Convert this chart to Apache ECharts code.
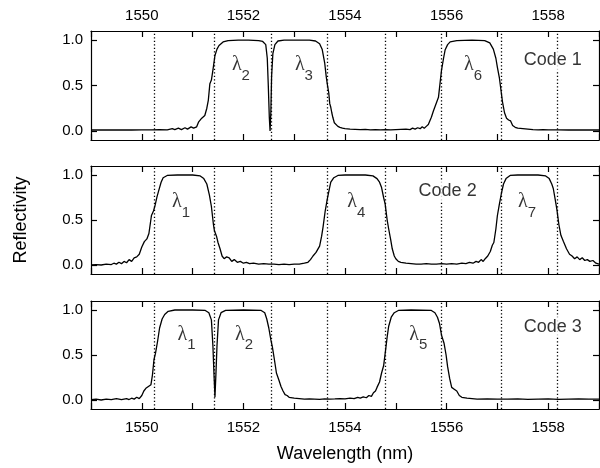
<!DOCTYPE html>
<html>
<head>
<meta charset="utf-8">
<script src="https://cdn.jsdelivr.net/npm/echarts@6/dist/echarts.min.js"></script>
<style>
  html, body { margin: 0; padding: 0; background: #fff; }
  #chart { width: 600px; height: 468px; }
</style>
</head>
<body>
<div id="chart"></div>
<script>
// axis ticks / labels
const xTickLabels = [1550, 1552, 1554, 1556, 1558];
const xTicks = [1549, 1550, 1551, 1552, 1553, 1554, 1555, 1556, 1557, 1558, 1559];
const yTicks = [0, 0.5, 1.0];

// dotted channel boundaries (nm)
const channelEdges = [1550.24, 1551.43, 1552.54, 1553.65, 1554.79, 1555.89, 1557.08, 1558.18];

// reflectivity spectra [wavelength, R]
const code1 = [
  [1549.0, 0.01], [1549.2, 0.012], [1549.4, 0.01], [1549.6, 0.012], [1549.8, 0.01], [1550.0, 0.012],
  [1550.2, 0.012], [1550.35, 0.015], [1550.5, 0.012], [1550.6, 0.025], [1550.65, 0.015], [1550.72, 0.03],
  [1550.78, 0.015], [1550.85, 0.035], [1550.9, 0.02], [1550.97, 0.045], [1551.02, 0.03], [1551.08, 0.045],
  [1551.12, 0.1], [1551.18, 0.14], [1551.24, 0.17], [1551.28, 0.25], [1551.31, 0.34], [1551.34, 0.52],
  [1551.37, 0.56], [1551.40, 0.67], [1551.44, 0.83], [1551.48, 0.9], [1551.52, 0.94], [1551.6, 0.98],
  [1551.7, 0.995], [1551.9, 1.0], [1552.1, 1.0], [1552.3, 0.995], [1552.38, 0.985], [1552.44, 0.95],
  [1552.47, 0.8], [1552.49, 0.5], [1552.51, 0.15], [1552.525, 0.0], [1552.54, 0.2], [1552.555, 0.6],
  [1552.58, 0.85], [1552.62, 0.95], [1552.68, 0.99], [1552.8, 1.0], [1553.0, 1.0], [1553.3, 1.0],
  [1553.42, 0.99], [1553.5, 0.96], [1553.55, 0.9], [1553.6, 0.75], [1553.63, 0.6], [1553.65, 0.52],
  [1553.68, 0.42], [1553.70, 0.30], [1553.72, 0.26], [1553.74, 0.2], [1553.76, 0.15], [1553.79, 0.09],
  [1553.82, 0.07], [1553.86, 0.05], [1553.9, 0.04], [1553.95, 0.03], [1554.0, 0.025], [1554.1, 0.02],
  [1554.2, 0.018], [1554.3, 0.015], [1554.4, 0.018], [1554.5, 0.012], [1554.6, 0.015], [1554.7, 0.012],
  [1554.8, 0.015], [1554.9, 0.012], [1555.0, 0.015], [1555.1, 0.018], [1555.2, 0.02], [1555.28, 0.015],
  [1555.33, 0.03], [1555.38, 0.02], [1555.43, 0.035], [1555.48, 0.025], [1555.52, 0.045], [1555.56, 0.03],
  [1555.6, 0.05], [1555.64, 0.07], [1555.7, 0.15], [1555.74, 0.22], [1555.78, 0.28], [1555.84, 0.37],
  [1555.87, 0.52], [1555.9, 0.67], [1555.94, 0.8], [1555.97, 0.89], [1556.02, 0.95], [1556.07, 0.98],
  [1556.2, 0.995], [1556.5, 1.0], [1556.75, 0.995], [1556.85, 0.97], [1556.92, 0.9], [1556.97, 0.8],
  [1557.0, 0.7], [1557.04, 0.58], [1557.07, 0.45], [1557.1, 0.32], [1557.14, 0.2], [1557.18, 0.14],
  [1557.22, 0.12], [1557.26, 0.11], [1557.3, 0.06], [1557.35, 0.04], [1557.4, 0.03], [1557.5, 0.025],
  [1557.6, 0.02], [1557.7, 0.015], [1557.8, 0.012], [1557.9, 0.015], [1558.0, 0.012], [1558.2, 0.012],
  [1558.4, 0.01], [1558.6, 0.012], [1558.8, 0.01], [1559.0, 0.01]
];

const code2 = [
  [1549.0, 0.0], [1549.1, 0.005], [1549.2, 0.0], [1549.3, 0.01], [1549.4, 0.005], [1549.45, 0.02],
  [1549.5, 0.01], [1549.55, 0.03], [1549.6, 0.015], [1549.65, 0.04], [1549.7, 0.025], [1549.75, 0.06],
  [1549.8, 0.04], [1549.85, 0.08], [1549.9, 0.09], [1549.95, 0.12], [1550.0, 0.2], [1550.05, 0.26],
  [1550.1, 0.29], [1550.14, 0.35], [1550.19, 0.55], [1550.23, 0.6], [1550.26, 0.66], [1550.3, 0.76],
  [1550.34, 0.84], [1550.38, 0.92], [1550.42, 0.97], [1550.5, 0.995], [1550.7, 1.0], [1551.0, 1.0],
  [1551.15, 0.99], [1551.22, 0.96], [1551.28, 0.9], [1551.33, 0.78], [1551.37, 0.65], [1551.41, 0.45],
  [1551.43, 0.38], [1551.47, 0.32], [1551.5, 0.25], [1551.54, 0.18], [1551.58, 0.1], [1551.62, 0.07],
  [1551.67, 0.09], [1551.72, 0.08], [1551.77, 0.04], [1551.82, 0.06], [1551.88, 0.03], [1551.94, 0.04],
  [1552.0, 0.02], [1552.06, 0.03], [1552.12, 0.015], [1552.2, 0.02], [1552.3, 0.01], [1552.4, 0.015],
  [1552.5, 0.01], [1552.6, 0.01], [1552.7, 0.005], [1552.8, 0.01], [1552.9, 0.005], [1553.0, 0.01],
  [1553.1, 0.01], [1553.2, 0.02], [1553.27, 0.03], [1553.32, 0.06], [1553.37, 0.1], [1553.43, 0.14],
  [1553.5, 0.21], [1553.54, 0.32], [1553.57, 0.43], [1553.61, 0.6], [1553.65, 0.73], [1553.69, 0.84],
  [1553.72, 0.92], [1553.78, 0.97], [1553.86, 0.995], [1554.0, 1.0], [1554.4, 1.0], [1554.55, 0.99],
  [1554.63, 0.96], [1554.68, 0.92], [1554.72, 0.86], [1554.76, 0.75], [1554.79, 0.68], [1554.83, 0.5],
  [1554.86, 0.4], [1554.9, 0.28], [1554.93, 0.18], [1554.97, 0.1], [1555.0, 0.07], [1555.05, 0.04],
  [1555.1, 0.03], [1555.2, 0.02], [1555.3, 0.015], [1555.4, 0.01], [1555.5, 0.01], [1555.6, 0.015],
  [1555.7, 0.01], [1555.8, 0.01], [1555.9, 0.015], [1556.0, 0.01], [1556.1, 0.015], [1556.2, 0.01],
  [1556.3, 0.02], [1556.38, 0.015], [1556.45, 0.03], [1556.52, 0.02], [1556.58, 0.04], [1556.63, 0.03],
  [1556.68, 0.06], [1556.72, 0.04], [1556.76, 0.07], [1556.81, 0.1], [1556.86, 0.15], [1556.9, 0.22],
  [1556.93, 0.25], [1556.97, 0.4], [1557.0, 0.55], [1557.04, 0.68], [1557.08, 0.8], [1557.12, 0.9],
  [1557.17, 0.96], [1557.25, 0.995], [1557.4, 1.0], [1557.8, 1.0], [1557.95, 0.99], [1558.02, 0.96],
  [1558.07, 0.9], [1558.1, 0.85], [1558.14, 0.72], [1558.17, 0.62], [1558.21, 0.45], [1558.25, 0.33],
  [1558.3, 0.26], [1558.36, 0.18], [1558.42, 0.12], [1558.47, 0.1], [1558.52, 0.07], [1558.57, 0.09],
  [1558.62, 0.06], [1558.67, 0.08], [1558.72, 0.05], [1558.77, 0.06], [1558.82, 0.04], [1558.88, 0.05],
  [1558.94, 0.02], [1559.0, 0.01]
];

const code3 = [
  [1549.0, 0.005], [1549.1, 0.01], [1549.2, 0.0], [1549.3, 0.01], [1549.4, 0.005], [1549.5, 0.015],
  [1549.6, 0.005], [1549.7, 0.015], [1549.75, 0.005], [1549.8, 0.02], [1549.85, 0.01], [1549.9, 0.03],
  [1549.95, 0.015], [1550.0, 0.05], [1550.04, 0.1], [1550.08, 0.13], [1550.13, 0.15], [1550.18, 0.17],
  [1550.21, 0.28], [1550.24, 0.45], [1550.27, 0.52], [1550.31, 0.65], [1550.35, 0.8], [1550.4, 0.9],
  [1550.45, 0.95], [1550.52, 0.985], [1550.65, 1.0], [1551.0, 1.0], [1551.25, 0.995], [1551.32, 0.97],
  [1551.37, 0.89], [1551.40, 0.6], [1551.42, 0.3], [1551.44, 0.03], [1551.46, 0.3], [1551.48, 0.6],
  [1551.51, 0.89], [1551.56, 0.97], [1551.65, 0.995], [1552.0, 1.0], [1552.35, 0.995], [1552.42, 0.97],
  [1552.46, 0.9], [1552.5, 0.8], [1552.54, 0.67], [1552.57, 0.59], [1552.61, 0.45], [1552.65, 0.3],
  [1552.7, 0.22], [1552.74, 0.15], [1552.78, 0.1], [1552.82, 0.06], [1552.86, 0.05], [1552.9, 0.03],
  [1553.0, 0.02], [1553.1, 0.015], [1553.2, 0.01], [1553.3, 0.012], [1553.4, 0.01], [1553.5, 0.008],
  [1553.6, 0.012], [1553.7, 0.01], [1553.8, 0.012], [1553.9, 0.015], [1554.0, 0.012], [1554.1, 0.02],
  [1554.18, 0.015], [1554.25, 0.03], [1554.3, 0.02], [1554.36, 0.035], [1554.42, 0.025], [1554.47, 0.05],
  [1554.52, 0.04], [1554.56, 0.08], [1554.6, 0.1], [1554.63, 0.14], [1554.68, 0.2], [1554.72, 0.3],
  [1554.76, 0.38], [1554.8, 0.56], [1554.83, 0.7], [1554.86, 0.82], [1554.91, 0.92], [1554.97, 0.97],
  [1555.05, 0.995], [1555.3, 1.0], [1555.7, 0.995], [1555.77, 0.97], [1555.82, 0.92], [1555.86, 0.85],
  [1555.9, 0.72], [1555.95, 0.63], [1555.99, 0.5], [1556.02, 0.37], [1556.06, 0.24], [1556.1, 0.14],
  [1556.15, 0.12], [1556.2, 0.1], [1556.25, 0.05], [1556.3, 0.03], [1556.4, 0.02], [1556.5, 0.015],
  [1556.6, 0.01], [1556.8, 0.012], [1557.0, 0.01], [1557.2, 0.01], [1557.4, 0.012], [1557.6, 0.008],
  [1557.8, 0.01], [1558.0, 0.012], [1558.2, 0.008], [1558.4, 0.01], [1558.6, 0.012], [1558.8, 0.01],
  [1559.0, 0.01]
];

// channel labels [wavelength, R, subscript]
const lambdas1 = [[1551.87, 0.73, '2'], [1553.11, 0.73, '3'], [1556.44, 0.73, '6']];
const lambdas2 = [[1550.69, 0.70, '1'], [1554.14, 0.70, '4'], [1557.50, 0.70, '7']];
const lambdas3 = [[1550.80, 0.73, '1'], [1551.93, 0.73, '2'], [1555.36, 0.73, '5']];
const codeNames = ['Code 1', 'Code 2', 'Code 3'];
const codeLabelPos = [[1558.09, 0.78], [1556.02, 0.82], [1558.09, 0.81]];

const spectra = [code1, code2, code3];
const lambdaSets = [lambdas1, lambdas2, lambdas3];

const FONT = 'Liberation Sans, Arial, sans-serif';
const BLACK = '#000';

const chart = echarts.init(document.getElementById('chart'));

const grids = [
  { left: 91, right: 1, top: 31, height: 109 },
  { left: 91, right: 1, top: 166, height: 108 },
  { left: 91, right: 1, top: 301, height: 108 }
];

const xAxes = [];
const yAxes = [];
const series = [];

const plainLabel = {
  show: true,
  position: 'inside',
  color: BLACK,
  textBorderWidth: 0,
  textShadowBlur: 0,
  fontFamily: FONT
};

for (let i = 0; i < 3; i++) {
  ['bottom', 'top'].forEach(pos => {
    const showLabel = (pos === 'bottom' && i === 2) || (pos === 'top' && i === 0);
    xAxes.push({
      type: 'value',
      gridIndex: i,
      position: pos,
      min: 1549,
      max: 1559,
      axisLine: { show: true, onZero: false, lineStyle: { color: BLACK, width: 1.2 } },
      axisTick: { show: true, inside: true, length: 6, customValues: xTicks, lineStyle: { color: BLACK, width: 1.2 } },
      axisLabel: {
        show: showLabel,
        customValues: xTickLabels,
        color: BLACK,
        fontFamily: FONT,
        fontSize: 15,
        margin: pos === 'top' ? 8 : 11,
        formatter: v => String(v)
      },
      splitLine: { show: false },
      name: (pos === 'bottom' && i === 2) ? 'Wavelength (nm)' : '',
      nameLocation: 'middle',
      nameGap: 36,
      nameTextStyle: { color: BLACK, fontFamily: FONT, fontSize: 18 }
    });
  });
  ['left', 'right'].forEach(pos => {
    yAxes.push({
      type: 'value',
      gridIndex: i,
      position: pos,
      min: -0.1,
      max: 1.1,
      axisLine: { show: true, onZero: false, lineStyle: { color: BLACK, width: 1.2 } },
      axisTick: { show: true, inside: true, length: 6, customValues: yTicks, lineStyle: { color: BLACK, width: 1.2 } },
      axisLabel: {
        show: pos === 'left',
        customValues: yTicks,
        color: BLACK,
        fontFamily: FONT,
        fontSize: 15,
        margin: 8,
        formatter: v => v.toFixed(1)
      },
      splitLine: { show: false },
      name: (pos === 'left' && i === 1) ? 'Reflectivity' : '',
      nameLocation: 'middle',
      nameGap: 61,
      nameTextStyle: { color: BLACK, fontFamily: FONT, fontSize: 18 }
    });
  });

  series.push({
    type: 'line',
    xAxisIndex: 2 * i,
    yAxisIndex: 2 * i,
    data: spectra[i],
    showSymbol: false,
    silent: true,
    z: 3,
    lineStyle: { color: BLACK, width: 1.3 },
    markLine: {
      silent: true,
      symbol: 'none',
      label: { show: false },
      lineStyle: { color: BLACK, width: 1.3, type: [1.3, 2.2] },
      data: channelEdges.map(x => ({ xAxis: x }))
    }
  });

  // lambda glyphs
  series.push({
    type: 'scatter',
    xAxisIndex: 2 * i,
    yAxisIndex: 2 * i,
    symbolSize: 0,
    silent: true,
    z: 5,
    itemStyle: { color: BLACK },
    data: lambdaSets[i],
    label: Object.assign({}, plainLabel, {
      formatter: () => 'λ',
      fontFamily: 'Liberation Serif, DejaVu Serif, serif',
      fontSize: 20
    })
  });
  // subscripts
  series.push({
    type: 'scatter',
    xAxisIndex: 2 * i,
    yAxisIndex: 2 * i,
    symbolSize: 0,
    silent: true,
    z: 5,
    itemStyle: { color: BLACK },
    data: lambdaSets[i],
    label: Object.assign({}, plainLabel, {
      offset: [9, 11],
      formatter: p => p.value[2],
      fontSize: 15
    })
  });
  // code name, white box hides the dotted line behind it
  series.push({
    type: 'scatter',
    xAxisIndex: 2 * i,
    yAxisIndex: 2 * i,
    symbolSize: 0,
    silent: true,
    z: 5,
    itemStyle: { color: BLACK },
    data: [codeLabelPos[i]],
    label: Object.assign({}, plainLabel, {
      formatter: () => codeNames[i],
      fontSize: 18,
      backgroundColor: '#fff',
      padding: [1, 0]
    })
  });
}

chart.setOption({
  animation: false,
  backgroundColor: '#fff',
  grid: grids,
  xAxis: xAxes,
  yAxis: yAxes,
  series: series
});
</script>
</body>
</html>
